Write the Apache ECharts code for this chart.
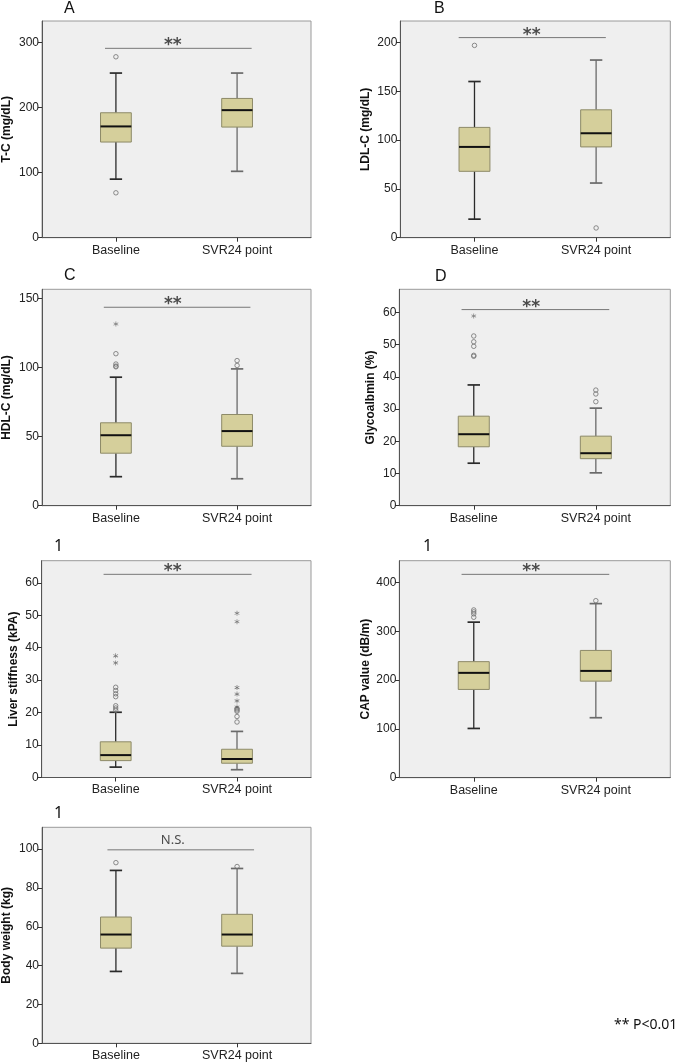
<!DOCTYPE html>
<html><head><meta charset="utf-8">
<script src="https://cdn.jsdelivr.net/npm/echarts@6/dist/echarts.min.js"></script>
<style>html,body{margin:0;padding:0;background:#fff}#c{width:684px;height:1063px}</style>
</head><body><div id="c"></div>
<script>
// ---------- DATA ----------
const groups = ['Baseline', 'SVR24 point'];
// [min, q1, median, q3, max] for Baseline and SVR24 point
const tcBox   = [[90, 147, 171, 192, 253], [102, 170, 196, 214, 253]];
const ldlBox  = [[19, 68, 93, 113, 160], [56, 93, 107, 131, 182]];
const hdlBox  = [[21, 38, 51, 60, 93], [19.5, 43, 54, 66, 99]];
const gaBox   = [[13.2, 18.3, 22.2, 27.8, 37.5], [10.2, 14.6, 16.3, 21.6, 30.3]];
const lsBox   = [[3.2, 5.2, 6.9, 11.0, 20.1], [2.4, 4.4, 5.7, 8.7, 14.2]];
const capBox  = [[101, 181, 215, 238, 319], [123, 198, 219, 261, 357]];
const bwBox   = [[37, 49, 56, 65, 89], [36, 50, 56, 66.4, 90]];
// outliers (circles) and extremes (stars): [Baseline values, SVR24 values]
const tcOut   = [[278, 69], []];
const tcStar  = [[], []];
const ldlOut  = [[197], [10]];
const ldlStar = [[], []];
const hdlOut  = [[110, 102.5, 101, 100.5], [105, 101.5]];
const hdlStar = [[131.5], []];
const gaOut   = [[52.7, 50.9, 49.5, 46.7, 46.4], [35.9, 34.7, 32.3]];
const gaStar  = [[58.9], []];
const lsOut   = [[27.8, 26.8, 25.8, 24.9, 22.1, 21.4, 20.7], [21.2, 20.8, 20.4, 18.8, 17.1]];
const lsStar  = [[37.5, 35.3], [50.6, 48.0, 27.7, 25.7, 23.6, 21.7]];
const capOut  = [[344, 340, 336, 329], [363]];
const capStar = [[], []];
const bwOut   = [[93], [91]];
const bwStar  = [[], []];
// significance bars: [y value, label]
const tcSig  = [291, '**'];
const ldlSig = [205, '**'];
const hdlSig = [143.6, '**'];
const gaSig  = [60.9, '**'];
const lsSig  = [62.6, '**'];
const capSig = [417, '**'];
const bwSig  = [99.6, 'N.S.'];
// axis titles, ranges and tick labels
const yNames = ['T-C (mg/dL)', 'LDL-C (mg/dL)', 'HDL-C (mg/dL)', 'Glycoalbmin (%)', 'Liver stiffness (kPA)', 'CAP value (dB/m)', 'Body weight (kg)'];
const yMax   = [333, 222, 156.6, 67.2, 66.8, 445, 111.2];
const yTicks = [[0,100,200,300],[0,50,100,150,200],[0,50,100,150],[0,10,20,30,40,50,60],[0,10,20,30,40,50,60],[0,100,200,300,400],[0,20,40,60,80,100]];
const panelLetters = ['A', 'B', 'C', 'D', '1', '1', '1'];
const footnote = '** P<0.01';

// ---------- LAYOUT / STYLE ----------
const boxes = [tcBox, ldlBox, hdlBox, gaBox, lsBox, capBox, bwBox];
const outs  = [tcOut, ldlOut, hdlOut, gaOut, lsOut, capOut, bwOut];
const stars = [tcStar, ldlStar, hdlStar, gaStar, lsStar, capStar, bwStar];
const sigs  = [tcSig, ldlSig, hdlSig, gaSig, lsSig, capSig, bwSig];
const grids = [
  {left: 41.7, top: 21, width: 269.3, height: 216.7},
  {left: 400.3, top: 21, width: 270, height: 216.7},
  {left: 41.7, top: 289.3, width: 269.3, height: 216.4},
  {left: 399.3, top: 289.3, width: 271, height: 216.4},
  {left: 41.7, top: 560.7, width: 269.3, height: 216.8},
  {left: 399.3, top: 560.7, width: 271, height: 217},
  {left: 41.7, top: 827.3, width: 269.3, height: 216}
];
const nameGaps = [29, 29, 29, 23, 22, 28, 29];
const sigSpan = [[0.91, 2.12], [0.87, 2.08], [0.9, 2.11], [0.9, 2.11], [0.9, 2.12], [0.9, 2.11], [0.93, 2.14]];
const letterPos = [[70, 10], [440, 10], [70, 277], [441, 278], [60, 547], [429, 547], [60, 814]];

const starPath = 'path://M-0.4,-3 L0.4,-3 L0.4,-0.7 L2.6,-1.9 L3,-1.2 L0.8,0 L3,1.2 L2.6,1.9 L0.4,0.7 L0.4,3 L-0.4,3 L-0.4,0.7 L-2.6,1.9 L-3,1.2 L-0.8,0 L-3,-1.2 L-2.6,-1.9 L-0.4,-0.7 Z';

const option = {animation: false, grid: [], xAxis: [], yAxis: [], series: [], title: [], graphic: []};
const tickFont = {color: '#222', fontSize: 12, fontFamily: 'Liberation Sans, Arial, sans-serif'};

for (let i = 0; i < 7; i++) {
  const g = grids[i];
  option.grid.push(Object.assign({show: true, backgroundColor: '#efefef', borderColor: '#9a9a9a', borderWidth: 1}, g));
  option.xAxis.push({
    gridIndex: i, type: 'value', min: 0.39, max: 2.61,
    axisLine: {show: true, lineStyle: {color: '#555', width: 1}},
    axisTick: {show: true, length: 4, customValues: [1, 2], lineStyle: {color: '#333'}},
    axisLabel: Object.assign({customValues: [1, 2], margin: 6,
      formatter: v => groups[Math.round(v) - 1] || ''}, tickFont, {fontSize: 12.5}),
    splitLine: {show: false}
  });
  option.yAxis.push({
    gridIndex: i, type: 'value', min: 0, max: yMax[i],
    name: yNames[i], nameLocation: 'middle', nameGap: nameGaps[i], nameRotate: 90,
    nameTextStyle: {fontWeight: 'bold', fontSize: 12, color: '#111', fontFamily: 'Liberation Sans, Arial, sans-serif'},
    axisLine: {show: true, lineStyle: {color: '#555', width: 1}},
    axisTick: {show: true, length: 4, customValues: yTicks[i], lineStyle: {color: '#333'}},
    axisLabel: Object.assign({customValues: yTicks[i], margin: 3}, tickFont),
    splitLine: {show: false}
  });
  // boxes
  option.series.push({
    type: 'custom', xAxisIndex: i, yAxisIndex: i,
    encode: {x: 0, y: [1, 2, 3, 4, 5]},
    data: boxes[i].map((b, k) => [k + 1].concat(b)),
    renderItem: function (params, api) {
      const x = api.value(0);
      const unit = api.size([1, 0])[0];
      const bw = unit * 0.254, cw = unit * 0.102;
      const cx = api.coord([x, 0])[0];
      const yLo = api.coord([x, api.value(1)])[1];
      const yQ1 = api.coord([x, api.value(2)])[1];
      const yMd = api.coord([x, api.value(3)])[1];
      const yQ3 = api.coord([x, api.value(4)])[1];
      const yHi = api.coord([x, api.value(5)])[1];
      const stroke = x === 1 ? '#2a2a2a' : '#6a6a6a';
      const lw = 1.3;
      return {type: 'group', children: [
        {type: 'line', shape: {x1: cx, y1: yHi, x2: cx, y2: yQ3}, style: {stroke: stroke, lineWidth: lw}},
        {type: 'line', shape: {x1: cx, y1: yQ1, x2: cx, y2: yLo}, style: {stroke: stroke, lineWidth: lw}},
        {type: 'line', shape: {x1: cx - cw / 2, y1: yHi, x2: cx + cw / 2, y2: yHi}, style: {stroke: stroke, lineWidth: lw + 0.4}},
        {type: 'line', shape: {x1: cx - cw / 2, y1: yLo, x2: cx + cw / 2, y2: yLo}, style: {stroke: stroke, lineWidth: lw + 0.4}},
        {type: 'rect', shape: {x: cx - bw / 2, y: yQ3, width: bw, height: yQ1 - yQ3}, style: {fill: '#d5cf9b', stroke: '#8d8a68', lineWidth: 1}},
        {type: 'line', shape: {x1: cx - bw / 2, y1: yMd, x2: cx + bw / 2, y2: yMd}, style: {stroke: '#111', lineWidth: 2}}
      ]};
    }
  });
  // outliers circles
  const circ = [];
  outs[i].forEach((arr, k) => arr.forEach(v => circ.push([k + 1, v])));
  option.series.push({
    type: 'scatter', xAxisIndex: i, yAxisIndex: i, data: circ, symbol: 'circle', symbolSize: 4.5,
    itemStyle: {color: 'rgba(0,0,0,0)', borderColor: '#707070', borderWidth: 1}, z: 5
  });
  const st = [];
  stars[i].forEach((arr, k) => arr.forEach(v => st.push([k + 1, v])));
  option.series.push({
    type: 'scatter', xAxisIndex: i, yAxisIndex: i, data: st, symbol: starPath, symbolSize: 5,
    itemStyle: {color: '#555'}, z: 5
  });
  // significance bar
  option.series.push({
    type: 'line', xAxisIndex: i, yAxisIndex: i, symbol: 'none',
    data: [[sigSpan[i][0], sigs[i][0]], [sigSpan[i][1], sigs[i][0]]],
    lineStyle: {color: '#777', width: 1}, z: 4
  });
  const isNS = sigs[i][1] !== '**';
  option.series.push({
    type: 'scatter', xAxisIndex: i, yAxisIndex: i, symbolSize: 0,
    data: [[1.47, sigs[i][0]]],
    label: {show: true, position: 'top', distance: isNS ? 3 : -6, formatter: sigs[i][1],
      fontSize: isNS ? 13 : 17, fontWeight: isNS ? 'normal' : 'bold', color: '#222',
      fontFamily: isNS ? 'Noto Sans, sans-serif' : 'DejaVu Sans, sans-serif'}
  });
  option.title.push({text: panelLetters[i], left: letterPos[i][0] - 6, top: letterPos[i][1] - 9,
    padding: 0, textStyle: {fontSize: 16, fontWeight: 'normal', color: '#111',
      fontFamily: panelLetters[i] === '1' ? 'Noto Sans, sans-serif' : 'Liberation Sans, Arial, sans-serif'}});
}
option.graphic.push({type: 'text', left: 614, top: 1018,
  style: {text: footnote, fontSize: 14, fill: '#111', fontFamily: 'Noto Sans, sans-serif'}});

const chart = echarts.init(document.getElementById('c'), null, {renderer: 'canvas'});
chart.setOption(option);
</script></body></html>
